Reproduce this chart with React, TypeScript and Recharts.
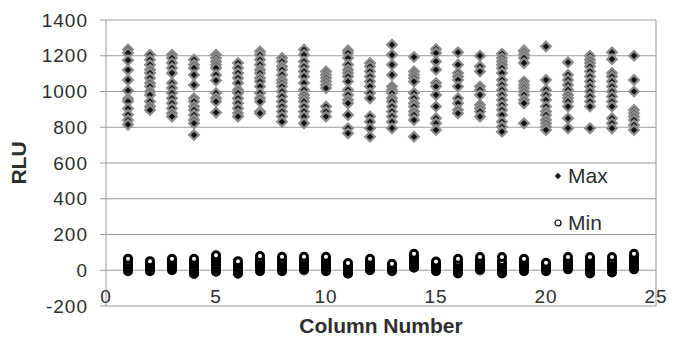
import { ScatterChart, Scatter, XAxis, YAxis, CartesianGrid, ReferenceLine, Legend, Label } from 'recharts'

const columns = [1, 2, 3, 4, 5, 6, 7, 8, 9, 10, 11, 12, 13, 14, 15, 16, 17, 18, 19, 20, 21, 22, 23, 24]

// RLU max readings per column
const maxByColumn: number[][] = [
  [1235, 1215, 1175, 1120, 1065, 1005, 960, 945, 905, 870, 840, 815],
  [1205, 1178, 1150, 1122, 1103, 1075, 1047, 1028, 1000, 981, 944, 916, 897],
  [1205, 1187, 1159, 1131, 1103, 1047, 1019, 991, 962, 934, 906, 878, 860],
  [1178, 1150, 1131, 1093, 1037, 962, 944, 916, 897, 869, 841, 822, 757],
  [1205, 1187, 1168, 1150, 1131, 1093, 1062, 991, 962, 944, 882],
  [1159, 1131, 1103, 1075, 1047, 1009, 991, 962, 934, 906, 878, 860],
  [1224, 1205, 1178, 1150, 1122, 1103, 1075, 1056, 1028, 991, 962, 944, 888, 878],
  [1187, 1168, 1140, 1122, 1093, 1065, 1047, 1028, 1000, 972, 944, 916, 888, 860, 831],
  [1234, 1205, 1168, 1140, 1112, 1084, 1047, 1009, 981, 962, 944, 916, 888, 860, 822],
  [1112, 1093, 1075, 1056, 1037, 1019, 916, 888, 860],
  [1230, 1215, 1187, 1150, 1122, 1103, 1084, 1056, 1009, 981, 953, 934, 869, 794, 766],
  [1159, 1140, 1112, 1084, 1056, 1028, 991, 962, 860, 831, 794, 747],
  [1262, 1205, 1150, 1093, 1028, 1009, 991, 962, 944, 916, 888, 860, 831, 794],
  [1193, 1112, 1093, 1075, 1056, 991, 962, 934, 916, 888, 869, 841, 747],
  [1237, 1215, 1168, 1122, 1047, 1028, 981, 916, 850, 822, 785],
  [1219, 1150, 1103, 1084, 1065, 1028, 962, 934, 897, 878],
  [1200, 1140, 1112, 1028, 1009, 981, 925, 906, 888, 860],
  [1211, 1187, 1168, 1150, 1131, 1103, 1065, 1037, 1009, 981, 953, 925, 897, 869, 831, 803, 775],
  [1230, 1224, 1205, 1187, 1159, 1056, 1037, 1019, 1000, 981, 953, 934, 822],
  [1252, 1065, 1009, 981, 953, 916, 888, 869, 841, 822, 803, 785],
  [1163, 1093, 1065, 1037, 1009, 981, 962, 944, 916, 850, 794],
  [1200, 1178, 1159, 1140, 1112, 1084, 1056, 1028, 1000, 972, 944, 916, 794],
  [1219, 1181, 1103, 1084, 1056, 1028, 1000, 972, 944, 916, 850, 822, 794],
  [1200, 1065, 1000, 897, 878, 860, 841, 813, 785],
]

// RLU min readings per column
const minByColumn: number[][] = [
  [-5, 2, 8, 14, 22, 30, 38, 48, 65],
  [-5, 0, 6, 12, 18, 26, 34, 42, 51],
  [0, 5, 12, 18, 26, 34, 42, 52, 64],
  [-21, -14, -6, 2, 10, 20, 30, 42, 52, 64],
  [-8, -2, 6, 14, 24, 34, 46, 58, 70, 84],
  [-20, -12, -4, 4, 12, 20, 30, 40, 51],
  [-5, 2, 10, 18, 28, 38, 50, 62, 80],
  [-5, 0, 8, 16, 26, 36, 46, 58, 75],
  [0, 6, 12, 20, 30, 40, 52, 62, 75],
  [-5, 2, 10, 18, 28, 38, 50, 62, 75],
  [-20, -12, -4, 4, 12, 20, 30, 40],
  [0, 6, 12, 20, 28, 38, 50, 64],
  [-5, 2, 10, 18, 26, 36],
  [14, 20, 28, 36, 46, 56, 68, 80, 92],
  [-5, 2, 10, 18, 26, 36, 49],
  [-18, -10, -2, 6, 14, 24, 34, 46, 64],
  [0, 8, 16, 24, 34, 44, 56, 74],
  [-18, -10, -2, 8, 18, 28, 40, 52, 74],
  [-5, 2, 10, 18, 28, 38, 50, 64],
  [-5, 2, 10, 18, 26, 34, 42],
  [5, 12, 20, 28, 38, 48, 58, 74],
  [-18, -8, 4, 14, 26, 38, 50, 62, 74],
  [-12, -2, 8, 18, 30, 42, 56, 74],
  [5, 12, 20, 30, 40, 52, 64, 78, 92],
]

const xTicks = [0, 5, 10, 15, 20, 25]
const yTicks = [-200, 0, 200, 400, 600, 800, 1000, 1200, 1400]

const maxData = columns.flatMap((c, i) => maxByColumn[i].map((v) => ({ col: c, rlu: v })))
const minData = columns.flatMap((c, i) => minByColumn[i].map((v) => ({ col: c, rlu: v })))

const FONT = '"Liberation Sans", Arial, sans-serif'
const GRID = '#9a9a9a'
const TEXT = '#2e2e2e'

const Diamond = (props: any) => {
  const { cx, cy } = props
  const r = 4.8
  return (
    <polygon
      points={`${cx},${cy - r} ${cx + r},${cy} ${cx},${cy + r} ${cx - r},${cy}`}
      fill="#111"
      stroke="#8c8c8c"
      strokeWidth={2.2}
    />
  )
}

const Ring = (props: any) => {
  const { cx, cy } = props
  return <circle cx={cx} cy={cy} r={3.5} fill="#fff" stroke="#000" strokeWidth={3} />
}

const XTick = (props: any) => {
  const { x, y, payload } = props
  return (
    <text x={x} y={y - 3} textAnchor="middle" fill={TEXT} fontSize={19} fontFamily={FONT} letterSpacing={1}>
      {payload.value}
    </text>
  )
}

const renderLegend = () => (
  <div style={{ fontFamily: FONT, fontSize: 21, color: TEXT }}>
    <div style={{ display: 'flex', alignItems: 'center', height: 24 }}>
      <svg width={10} height={10}>
        <polygon points="5,2 8,5 5,8 2,5" fill="#111" stroke="#555" strokeWidth={0.8} />
      </svg>
      <span style={{ marginLeft: 5 }}>Max</span>
    </div>
    <div style={{ display: 'flex', alignItems: 'center', height: 24, marginTop: 23 }}>
      <svg width={10} height={10}>
        <circle cx={5} cy={5} r={3} fill="#fff" stroke="#000" strokeWidth={1.2} />
      </svg>
      <span style={{ marginLeft: 5 }}>Min</span>
    </div>
  </div>
)

export default function App() {
  return (
    <div style={{ position: 'absolute', left: 0, top: 0, background: '#fff' }}>
      <ScatterChart width={679} height={337} margin={{ top: 20, right: 23, bottom: 0, left: 0 }}>
        <CartesianGrid stroke={GRID} vertical={false} />
        <XAxis
          type="number"
          dataKey="col"
          domain={[0, 25]}
          ticks={xTicks}
          height={31}
          axisLine={false}
          tickLine={false}
          tickSize={0}
          tickMargin={0}
          tick={<XTick />}
          interval={0}
        >
          <Label
            value="Column Number"
            position="insideBottom"
            offset={4}
            style={{ fontFamily: FONT, fontSize: 21, fontWeight: 'bold', fill: TEXT }}
          />
        </XAxis>
        <YAxis
          type="number"
          dataKey="rlu"
          domain={[-200, 1400]}
          ticks={yTicks}
          width={106}
          axisLine={{ stroke: GRID }}
          tickLine={{ stroke: GRID }}
          tickSize={6}
          tickMargin={12}
          tick={{ fill: TEXT, fontSize: 19, fontFamily: FONT, letterSpacing: 1 }}
          interval={0}
        >
          <Label
            content={(p: any) => {
              const vb = p.viewBox
              const cx = vb.x + 18
              const cy = vb.y + vb.height / 2
              return (
                <text
                  x={cx}
                  y={cy}
                  transform={`rotate(-90 ${cx} ${cy})`}
                  textAnchor="middle"
                  dominantBaseline="central"
                  fontFamily={FONT}
                  fontSize={21}
                  fontWeight="bold"
                  fill={TEXT}
                >
                  RLU
                </text>
              )
            }}
          />
        </YAxis>
        <ReferenceLine x={25} stroke={GRID} />
        <Legend layout="vertical" align="center" verticalAlign="middle" content={renderLegend} wrapperStyle={{ left: 553, top: 164, width: 90 }} />
        <Scatter name="Max" data={maxData} shape={<Diamond />} isAnimationActive={false} />
        <Scatter name="Min" data={minData} shape={<Ring />} isAnimationActive={false} />
      </ScatterChart>
    </div>
  )
}
